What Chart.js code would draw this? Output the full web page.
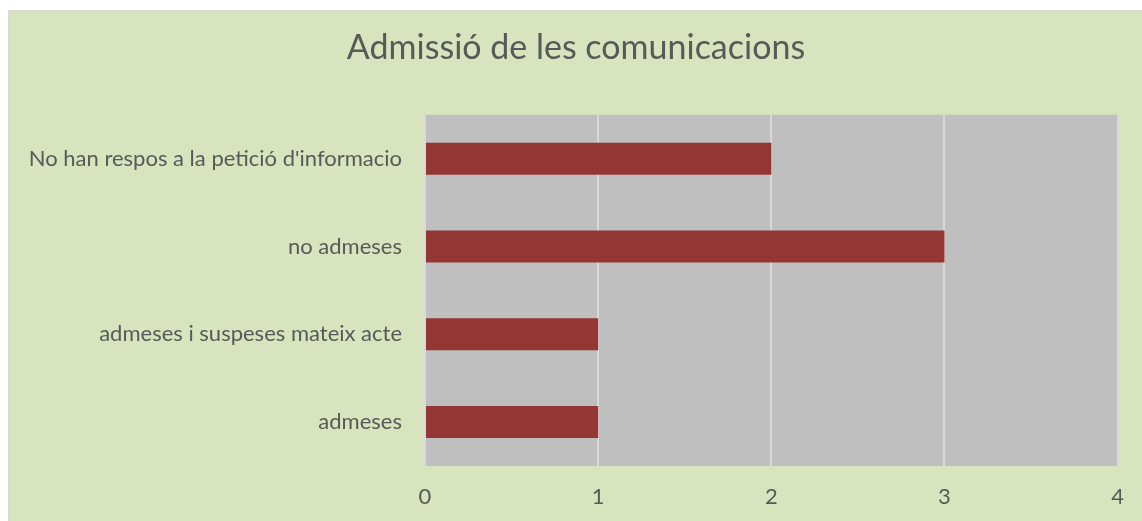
<!DOCTYPE html>
<html lang="ca">
<head>
  <meta charset="UTF-8">
  <title>Admissió de les comunicacions</title>
  <script src="https://cdn.jsdelivr.net/npm/chart.js@4.4.0/dist/chart.umd.min.js"></script>
  <style>
    html, body {
      margin: 0;
      padding: 0;
      background: #ffffff;
      overflow: hidden;
    }

    .marco {
      position: absolute;
      left: 8px;
      top: 10px;
      width: 1132px;
      height: 509px;
      background: #d7e4bd;
      border-top: 2px solid #d9d9d9;
      border-left: 2px solid #d9d9d9;
    }
  </style>
</head>

<body>
  <div class="marco">
    <canvas id="grafic" width="1132" height="509"></canvas>
  </div>

<script>
  // dades
  var categories = ["No han respos a la petició d'informacio", "no admeses", "admeses i suspeses mateix acte", "admeses"];
  var valors = [2, 3, 1, 1];
  var titol = "Admissió de les comunicacions";

  // fons gris de l'area del grafic
  var fonsArea = {
    id: 'fonsArea',
    beforeDraw: function (chart) {
      var a = chart.chartArea;
      var ctx = chart.ctx;
      ctx.save();
      ctx.fillStyle = '#bfbfbf';
      ctx.fillRect(a.left, a.top, a.right - a.left, a.bottom - a.top);
      ctx.restore();
    }
  };

  // el titol centrat sobre tot el canvas, no nomes fins al padding
  var titolCentrat = {
    id: 'titolCentrat',
    afterLayout: function (chart) {
      if (chart.titleBlock) {
        chart.titleBlock.left = 0;
        chart.titleBlock.right = chart.width;
      }
    }
  };

  let grafic = new Chart(document.getElementById('grafic'), {
    type: 'bar',
    data: {
      labels: categories,
      datasets: [{
        label: 'Sèrie 1',
        data: valors,
        backgroundColor: '#943634',
        borderWidth: 0,
        categoryPercentage: 1,
        barPercentage: 0.364
      }]
    },
    options: {
      indexAxis: 'y',
      responsive: false,
      animation: false,
      layout: {
        padding: { left: 0, right: 22, top: 0, bottom: 0 }
      },
      plugins: {
        legend: { display: false },
        tooltip: { enabled: false },
        title: {
          display: true,
          text: titol,
          color: '#595959',
          font: { family: 'Lato', size: 34, weight: 'normal' },
          padding: { top: 16, bottom: 46 }
        }
      },
      scales: {
        x: {
          min: 0,
          max: 4,
          ticks: {
            stepSize: 1,
            color: '#595959',
            padding: 18,
            font: { family: 'Lato', size: 22 }
          },
          grid: {
            color: '#d9d9d9',
            lineWidth: 2,
            drawTicks: false
          },
          border: { display: false },
          afterFit: function (scale) { scale.height = 55; }
        },
        y: {
          ticks: {
            color: '#595959',
            padding: 23,
            font: { family: 'Lato', size: 22 }
          },
          grid: { display: false, drawTicks: false },
          border: { display: true, color: '#d9d9d9', width: 2 },
          afterFit: function (scale) { scale.width = 415; }
        }
      }
    },
    plugins: [fonsArea, titolCentrat]
  });
</script>
</body>
</html>
